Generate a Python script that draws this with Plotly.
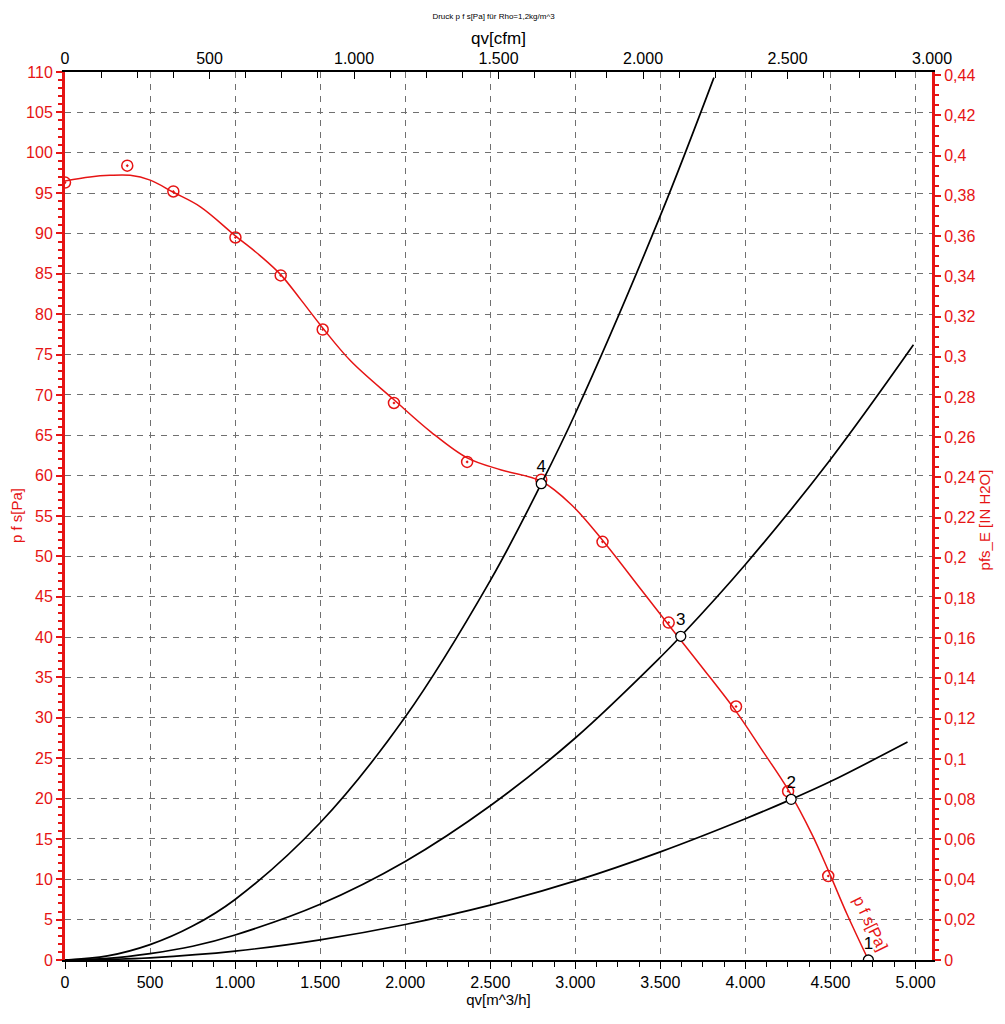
import plotly.graph_objects as go

# fan curve p_fs over qv
fan_q = [0, 147, 265, 383, 501, 637, 796, 1002, 1150, 1268, 1386, 1515, 1680,
         1934, 2152, 2364, 2565, 2800, 2977, 3160, 3390, 3549, 3744, 3945,
         4098, 4251, 4393, 4487, 4599, 4723]
fan_p = [96.5, 97.0, 97.2, 97.2, 96.6, 95.1, 93.3, 89.7, 87.2, 84.9, 81.8,
         78.3, 74.2, 69.4, 65.4, 62.2, 60.7, 59.3, 56.4, 52.0, 45.8, 41.5,
         36.3, 30.8, 26.0, 21.1, 15.5, 11.1, 5.6, 0.0]

# measured points (red circles)
meas_q = [0, 366, 637, 1002, 1268, 1515, 1934, 2364, 2800, 3160, 3549, 3945,
          4251, 4487]
meas_p = [96.3, 98.4, 95.2, 89.5, 84.8, 78.1, 69.0, 61.7, 59.5, 51.8, 41.8,
          31.4, 20.9, 10.4]

# system curves (black)
sys4_q = [0, 250, 500, 750, 1000, 1500, 2000, 2500, 2800, 3000, 3500, 3815]
sys4_p = [0, 0.5, 1.9, 4.2, 7.5, 17.0, 30.1, 47.0, 59.0, 67.7, 92.2, 109.3]
sys3_q = [0, 250, 500, 750, 1000, 1500, 2000, 2500, 3000, 3500, 3620, 4000,
          4500, 4988]
sys3_p = [0, 0.2, 0.8, 1.7, 3.1, 6.9, 12.2, 19.1, 27.5, 37.5, 40.1, 49.0,
          62.0, 76.2]
sys2_q = [0, 250, 500, 1000, 1500, 2000, 2500, 3000, 3500, 4000, 4269, 4500,
          4953]
sys2_p = [0, 0.07, 0.27, 1.1, 2.5, 4.4, 6.8, 9.8, 13.4, 17.5, 19.9, 22.1,
          27.0]

# operating points
op_q = [4723, 4269, 3620, 2800]
op_p = [0.0, 19.9, 40.1, 59.0]
op_labels = ['1', '2', '3', '4']

# right axis ticks in inH2O
inh2o_vals = [i / 50 for i in range(23)]
inh2o_text = [('%g' % v).replace('.', ',') for v in inh2o_vals]

RED = 'rgb(230, 20, 20)'
FONT = 'Liberation Sans, Arial, sans-serif'
Q_MAX = 5097.0      # = 3000 cfm
P_MAX = 110.0
PA_TO_INH2O = 0.0040146

# page body has an 8px margin, so the figure is 8px smaller than the window
W, H = 997, 1016
ML, MR, MT, MB = 57, 73, 64, 64
PW = W - ML - MR

fig = go.Figure()

# fan curve
fig.add_trace(go.Scatter(
    x=fan_q, y=fan_p, mode='lines', line=dict(color=RED, width=1.5,
                                              shape='spline'),
    showlegend=False, hoverinfo='skip'))
fig.add_trace(go.Scatter(
    x=meas_q, y=meas_p, mode='markers',
    marker=dict(symbol='circle-open-dot', size=11, color=RED,
                line=dict(width=1.5, color=RED)),
    showlegend=False))

# system curves
for q, p in ((sys4_q, sys4_p), (sys3_q, sys3_p), (sys2_q, sys2_p)):
    fig.add_trace(go.Scatter(
        x=q, y=p, mode='lines', line=dict(color='black', width=1.7,
                                          shape='spline'),
        showlegend=False, hoverinfo='skip'))

# operating points
fig.add_trace(go.Scatter(
    x=op_q, y=op_p, mode='markers+text', text=op_labels,
    textposition='top center',
    textfont=dict(family=FONT, size=17, color='black'),
    marker=dict(symbol='circle', size=10, color='white',
                line=dict(width=1.3, color='black')),
    showlegend=False))

# dummy trace so the secondary axes exist
fig.add_trace(go.Scatter(x=[0], y=[0], xaxis='x2', yaxis='y2', mode='markers',
                         marker=dict(opacity=0), showlegend=False,
                         hoverinfo='skip'))

# label along the fan curve
fig.add_annotation(x=4735, y=4.5, text='p f s[Pa]', showarrow=False,
                   textangle=64, font=dict(family=FONT, size=16, color=RED))

# y axis titles
fig.add_annotation(xref='paper', yref='paper', x=(8 - ML) / PW, y=0.5,
                   xanchor='center', yanchor='middle',
                   text='p f s[Pa]', showarrow=False, textangle=-90,
                   font=dict(family=FONT, size=15, color=RED))
fig.add_annotation(xref='paper', yref='paper', x=(976 - ML) / PW, y=0.495,
                   xanchor='center', yanchor='middle',
                   text='pfs_E [IN H2O]', showarrow=False, textangle=-90,
                   font=dict(family=FONT, size=15, color=RED))

fig.update_layout(
    width=W, height=H,
    margin=dict(l=ML, r=MR, t=MT, b=MB),
    paper_bgcolor='white', plot_bgcolor='white',
    separators=',.',
    font=dict(family=FONT, size=16, color='black'),
    title=dict(text='Druck p f s[Pa] für Rho=1,2kg/m^3', x=0.487,
               y=1 - 8 / H, xanchor='center', yanchor='middle',
               font=dict(size=8, color='black')),
    xaxis=dict(
        range=[0, Q_MAX], dtick=500, tick0=0, tickformat=',d',
        automargin=False,
        showline=True, linecolor='black', linewidth=2,
        ticks='outside', ticklen=7, tickcolor='black',
        minor=dict(dtick=125, ticks='outside', ticklen=5, tickcolor='black'),
        showgrid=True, gridcolor='#707070', griddash='6px,6px', gridwidth=1,
        zeroline=False,
        title=dict(text='qv[m^3/h]', standoff=4, font=dict(size=15)),
        tickfont=dict(size=16)),
    xaxis2=dict(
        overlaying='x', side='top', range=[0, 3000], dtick=500, tick0=0,
        tickformat=',d', automargin=False,
        showline=True, linecolor='black', linewidth=2,
        ticks='inside', ticklen=7, tickcolor='black',
        minor=dict(dtick=125, ticks='inside', ticklen=6, tickcolor='black'),
        showgrid=False, zeroline=False,
        title=dict(text='qv[cfm]', standoff=1, font=dict(size=17)),
        tickfont=dict(size=16)),
    yaxis=dict(
        range=[0, P_MAX], dtick=5, tick0=0, automargin=False,
        showline=True, linecolor=RED, linewidth=3,
        ticks='outside', ticklen=6, tickwidth=2, tickcolor=RED,
        minor=dict(dtick=1, ticks='outside', ticklen=4, tickcolor=RED,
                   tickwidth=2),
        showgrid=True, gridcolor='#707070', griddash='6px,6px', gridwidth=1,
        zeroline=False, tickfont=dict(size=16, color=RED)),
    yaxis2=dict(
        overlaying='y', side='right', range=[0, P_MAX * PA_TO_INH2O],
        automargin=False,
        tickmode='array', tickvals=inh2o_vals, ticktext=inh2o_text,
        showline=True, linecolor=RED, linewidth=3,
        ticks='outside', ticklen=6, tickwidth=2, tickcolor=RED,
        minor=dict(dtick=0.005, ticks='outside', ticklen=4, tickcolor=RED,
                   tickwidth=2),
        showgrid=False, zeroline=False,
        tickfont=dict(size=16, color=RED)),
)

fig.write_html('out.html')
